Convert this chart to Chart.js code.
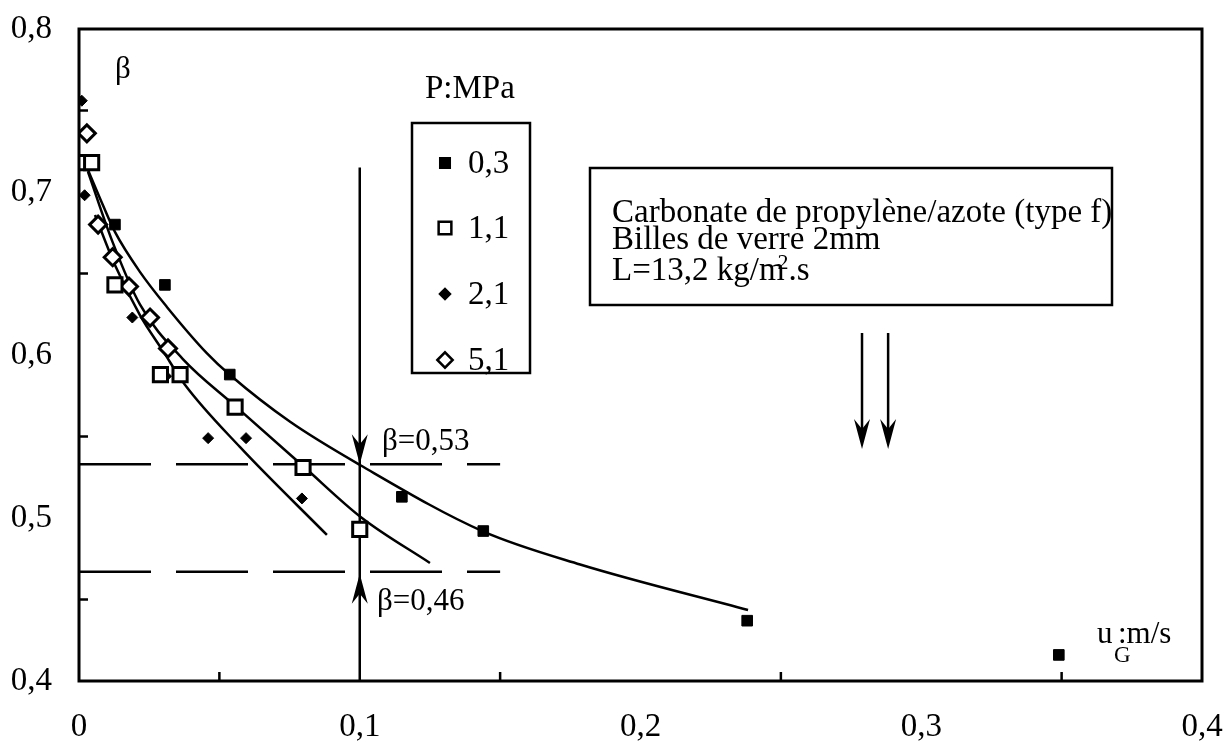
<!DOCTYPE html>
<html>
<head>
<meta charset="utf-8">
<script src="https://cdn.jsdelivr.net/npm/chart.js@4.4.1/dist/chart.umd.min.js"></script>
<style>
  html, body { margin: 0; padding: 0; background: #fff; }
  #wrap { width: 1231px; height: 743px; }
</style>
</head>
<body>
<div id="wrap"><canvas id="beta-chart" width="1231" height="743"></canvas></div>
<script>
// measured points, uG (m/s) vs beta, one pair of arrays per pressure
var uG_03 = [0.0128, 0.0306, 0.0537, 0.115, 0.144, 0.238, 0.349];
var beta_03 = [0.680, 0.643, 0.588, 0.513, 0.492, 0.437, 0.416];
var uG_11 = [0.001, 0.0045, 0.0128, 0.029, 0.036, 0.0556, 0.0798, 0.100];
var beta_11 = [0.718, 0.718, 0.643, 0.588, 0.588, 0.568, 0.531, 0.493];
var uG_21 = [0.001, 0.002, 0.019, 0.031, 0.046, 0.0595, 0.0794];
var beta_21 = [0.756, 0.698, 0.623, 0.587, 0.549, 0.549, 0.512];
var uG_51 = [0.0028, 0.0068, 0.012, 0.0178, 0.0253, 0.0317];
var beta_51 = [0.736, 0.680, 0.660, 0.642, 0.623, 0.604];

// hand-drawn fit curves
var fitA_x = [0.0032, 0.0085, 0.0128, 0.0217, 0.0313, 0.0456, 0.0538, 0.0752, 0.1001, 0.1439, 0.1785, 0.2383];
var fitA_y = [0.7135, 0.692, 0.6755, 0.651, 0.6295, 0.601, 0.5877, 0.559, 0.5325, 0.4918, 0.4715, 0.4436];
var fitB_x = [0.0032, 0.0118, 0.0217, 0.037, 0.0556, 0.0798, 0.1008, 0.125];
var fitB_y = [0.7123, 0.670, 0.631, 0.5975, 0.5688, 0.5319, 0.5, 0.4724];
var fitC_x = [0.0057, 0.0128, 0.0217, 0.0299, 0.0378, 0.0573, 0.0883];
var fitC_y = [0.6859, 0.6552, 0.6245, 0.6025, 0.5816, 0.5436, 0.4896];

// reference lines
var betaLimits = [0.533, 0.467];
var betaLimitEnd = 0.15;
var uRef = 0.1;
var uRefTop = 0.715;
var uArrows = [0.2789, 0.2882];

var legendLabels = ['0,3', '1,1', '2,1', '5,1'];
var xTicksHalf = [0.05, 0.15, 0.25, 0.35];
var yTicksHalf = [0.45, 0.55, 0.65, 0.75];

var serif = "'Liberation Serif', 'DejaVu Serif', serif";

function pts(xs, ys) {
  var out = [];
  for (var i = 0; i < xs.length; i++) out.push({x: xs[i], y: ys[i]});
  return out;
}
function commaNum(v) {
  if (Math.abs(v) < 1e-9) return '0';
  return v.toFixed(1).replace('.', ',');
}

var markerStyles = [
  {pointStyle: 'rect', radius: 7.5, fill: '#000', borderWidth: 1},
  {pointStyle: 'rect', radius: 10, fill: '#fff', borderWidth: 3},
  {pointStyle: 'rectRot', radius: 5.5, fill: '#000', borderWidth: 1},
  {pointStyle: 'rectRot', radius: 8.5, fill: '#fff', borderWidth: 3}
];

function markerSet(label, xs, ys, st) {
  return {
    label: label,
    data: pts(xs, ys),
    showLine: false,
    pointStyle: st.pointStyle,
    pointRadius: st.radius,
    pointHoverRadius: st.radius,
    pointBackgroundColor: st.fill,
    pointBorderColor: '#000',
    pointBorderWidth: st.borderWidth
  };
}
function lineSet(data, dash) {
  return {
    data: data,
    showLine: true,
    borderColor: '#000',
    borderWidth: 2.5,
    borderDash: dash || [],
    pointRadius: 0,
    fill: false,
    cubicInterpolationMode: 'monotone'
  };
}

function arrowHead(ctx, x, tipY, dir) {
  // dir = 1 points down, -1 points up
  var len = 30, half = 8, notch = 20;
  ctx.beginPath();
  ctx.moveTo(x, tipY);
  ctx.lineTo(x - half, tipY - dir * len);
  ctx.lineTo(x, tipY - dir * notch);
  ctx.lineTo(x + half, tipY - dir * len);
  ctx.closePath();
  ctx.fill();
}

var paperPlugin = {
  id: 'paper',
  beforeDraw: function(chart) {
    var ctx = chart.ctx;
    ctx.save();
    ctx.fillStyle = '#fff';
    ctx.fillRect(0, 0, chart.width, chart.height);
    ctx.restore();
  },
  afterDraw: function(chart) {
    var ctx = chart.ctx, a = chart.chartArea;
    var xs = chart.scales.x, ys = chart.scales.y;
    var X = function(v) { return xs.getPixelForValue(v); };
    var Y = function(v) { return ys.getPixelForValue(v); };
    ctx.save();
    ctx.strokeStyle = '#000';
    ctx.fillStyle = '#000';

    // frame + inward half ticks
    ctx.lineWidth = 3;
    ctx.strokeRect(a.left, a.top, a.right - a.left, a.bottom - a.top);
    ctx.lineWidth = 2.5;
    ctx.beginPath();
    xTicksHalf.forEach(function(v) { ctx.moveTo(X(v), a.bottom); ctx.lineTo(X(v), a.bottom - 9); });
    yTicksHalf.forEach(function(v) { ctx.moveTo(a.left, Y(v)); ctx.lineTo(a.left + 9, Y(v)); });
    ctx.stroke();

    // arrows on the uG = 0.1 line
    arrowHead(ctx, X(uRef), Y(betaLimits[0]), 1);
    arrowHead(ctx, X(uRef), Y(betaLimits[1]) + 2, -1);

    // double arrow on the right
    ctx.lineWidth = 2.5;
    uArrows.forEach(function(u) {
      ctx.beginPath();
      ctx.moveTo(X(u), Y(0.6135));
      ctx.lineTo(X(u), Y(0.5423) - 20);
      ctx.stroke();
      arrowHead(ctx, X(u), Y(0.5423), 1);
    });

    ctx.font = '31px ' + serif;
    ctx.textBaseline = 'alphabetic';
    ctx.textAlign = 'left';
    ctx.fillText('\u03b2', 115, 78);
    ctx.fillText('\u03b2=0,53', 382, 450);
    ctx.fillText('\u03b2=0,46', 377, 610);

    // axis title u_G :m/s
    ctx.fillText('u', 1097, 643);
    ctx.fillText(':m/s', 1118, 643);
    ctx.font = '23px ' + serif;
    ctx.fillText('G', 1114, 662);

    // legend box
    ctx.font = '33px ' + serif;
    ctx.fillText('P:MPa', 425, 98);
    ctx.lineWidth = 2.5;
    ctx.strokeRect(412, 123, 118, 250);
    var ly = [163, 228, 294, 360];
    for (var i = 0; i < legendLabels.length; i++) {
      var st = markerStyles[i];
      ctx.fillStyle = st.fill;
      ctx.strokeStyle = '#000';
      Chart.helpers.drawPoint(ctx, {pointStyle: st.pointStyle, radius: st.radius * 0.9, borderWidth: st.borderWidth, rotation: 0}, 445, ly[i]);
      ctx.fillStyle = '#000';
      ctx.fillText(legendLabels[i], 468, ly[i] + 10);
    }

    // info box
    ctx.lineWidth = 2.5;
    ctx.strokeRect(590, 168, 522, 137);
    ctx.fillText('Carbonate de propyl\u00e8ne/azote (type f)', 612, 222);
    ctx.fillText('Billes de verre 2mm', 612, 249);
    var s = 'L=13,2 kg/m';
    ctx.fillText(s, 612, 280);
    var w = ctx.measureText(s).width;
    ctx.fillText('.s', 612 + w + 4, 280);
    ctx.font = '22px ' + serif;
    ctx.fillText('2', 612 + w - 7, 269);
    ctx.restore();
  }
};

var datasets = [
  markerSet('0,3', uG_03, beta_03, markerStyles[0]),
  markerSet('1,1', uG_11, beta_11, markerStyles[1]),
  markerSet('2,1', uG_21, beta_21, markerStyles[2]),
  markerSet('5,1', uG_51, beta_51, markerStyles[3]),
  lineSet(pts(fitA_x, fitA_y)),
  lineSet(pts(fitB_x, fitB_y)),
  lineSet(pts(fitC_x, fitC_y)),
  lineSet([{x: 0, y: betaLimits[0]}, {x: betaLimitEnd, y: betaLimits[0]}], [72, 25]),
  lineSet([{x: 0, y: betaLimits[1]}, {x: betaLimitEnd, y: betaLimits[1]}], [72, 25]),
  lineSet([{x: uRef, y: 0.4}, {x: uRef, y: uRefTop}])
];

new Chart(document.getElementById('beta-chart'), {
  type: 'scatter',
  data: {datasets: datasets},
  options: {
    responsive: false,
    animation: false,
    layout: {padding: {left: 0, right: 29, top: 29, bottom: 0}},
    plugins: {legend: {display: false}, tooltip: {enabled: false}},
    scales: {
      x: {
        type: 'linear', min: 0, max: 0.4,
        grid: {display: false, drawTicks: false},
        border: {display: false},
        ticks: {stepSize: 0.1, padding: 27, color: '#000', font: {family: serif, size: 33}, callback: commaNum},
        afterFit: function(s) { s.height = 62; s.paddingLeft = 0; s.paddingRight = 0; }
      },
      y: {
        type: 'linear', min: 0.4, max: 0.8,
        grid: {display: false, drawTicks: false},
        border: {display: false},
        ticks: {stepSize: 0.1, padding: 27, color: '#000', font: {family: serif, size: 33}, callback: commaNum},
        afterFit: function(s) { s.width = 79; s.paddingTop = 0; s.paddingBottom = 0; }
      }
    }
  },
  plugins: [paperPlugin]
});
</script>
</body>
</html>
